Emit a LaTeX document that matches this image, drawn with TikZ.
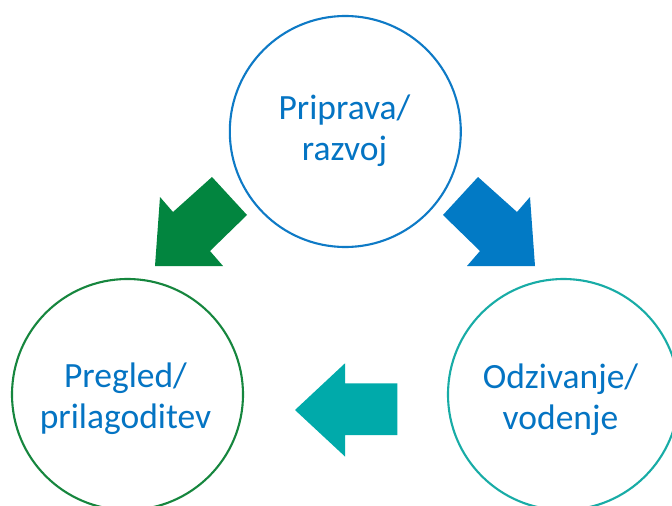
\documentclass[tikz,border=0pt]{standalone}
\usepackage{fontspec}
\setmainfont{Carlito}
\definecolor{txtblue}{RGB}{4,116,195}
\definecolor{ringblue}{RGB}{14,122,198}
\definecolor{ringgreen}{RGB}{22,134,62}
\definecolor{ringteal}{RGB}{24,172,166}
\definecolor{arrgreen}{RGB}{2,133,63}
\definecolor{arrblue}{RGB}{2,122,197}
\definecolor{arrteal}{RGB}{0,170,170}
\tikzset{
  ring/.style={circle, draw=#1, line width=2.1pt, minimum size=231pt, inner sep=0pt},
  % anchored at the baseline of the last line
  lbl/.style={font=\fontsize{35.5}{41.5}\selectfont, text=txtblue, align=center, inner sep=0pt, anchor=base},
  blockarrow/.style={fill=#1, draw=none}
}
\begin{document}
\begin{tikzpicture}[x=1pt,y=-1pt]
  \clip (0,0) rectangle (672,506);
  \fill[white] (0,0) rectangle (672,506);

  % three stages of the cycle
  \node[ring=ringblue]  (prep) at (345.3,131.5) {};
  \node[ring=ringgreen] (rev)  at (127.5,394.5) {};
  \node[ring=ringteal]  (resp) at (563.5,394.5) {};

  \node[lbl] (prepT) at (344.5,160.5) {Priprava/\\razvoj};
  \node[lbl] (revT)  at (125.5,428.5) {Pregled/\\prilagoditev};
  \node[lbl] (respT) at (560.5,429.5) {Odzivanje/\\vodenje};

  % block arrows between the stages
  \fill[blockarrow=arrgreen]
    (155,266) -- (160,197) -- (173,212) -- (212,177) -- (247,215)
    -- (210,251) -- (223,266) -- cycle;
  \fill[blockarrow=arrblue]
    (535,266) -- (530,197) -- (517,212) -- (478,177) -- (443,215)
    -- (480,251) -- (467,266) -- cycle;
  \fill[blockarrow=arrteal]
    (295,410) -- (345,363.3) -- (345,383.3) -- (397.3,383.3)
    -- (397.3,435) -- (345,435) -- (345,456.5) -- cycle;
\end{tikzpicture}
\end{document}
